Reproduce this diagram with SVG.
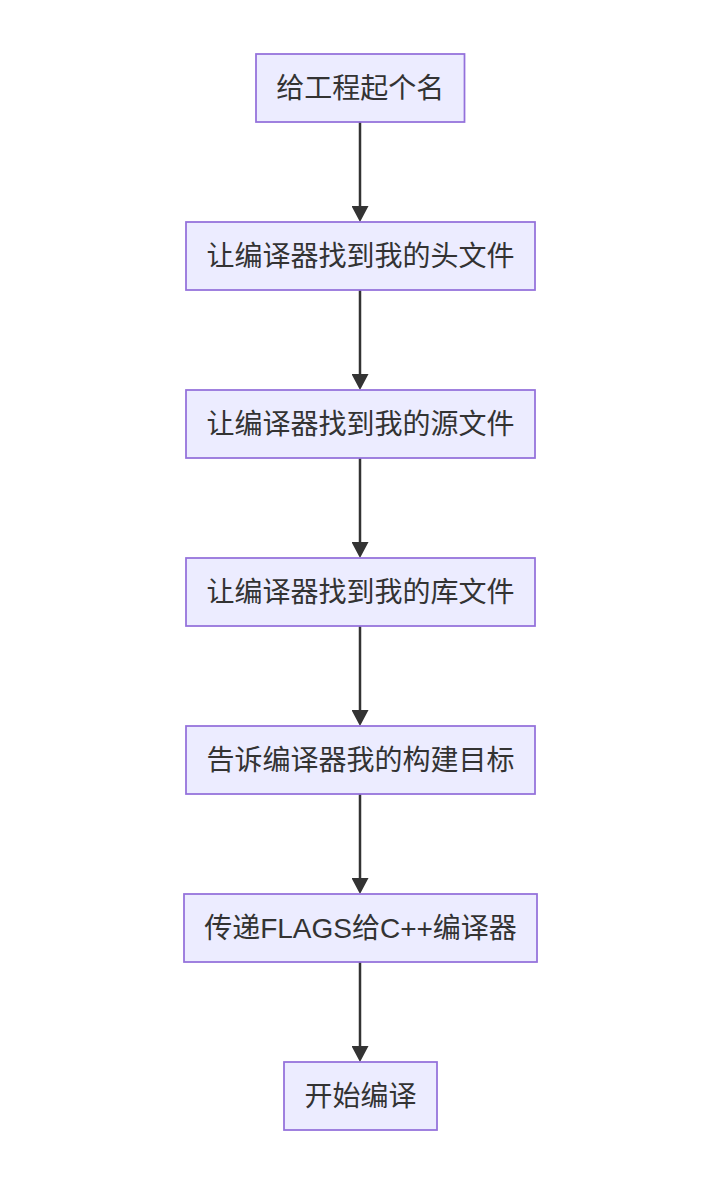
<svg xmlns="http://www.w3.org/2000/svg" width="720" height="1180" viewBox="0 0 720 1180">
<style>
.node rect{fill:#ECECFF;stroke:#9370DB;stroke-width:1.75}
.node text{fill:#333333;font-family:"Liberation Sans","Noto Sans CJK SC",sans-serif;font-size:28px;text-anchor:middle;dominant-baseline:central}
.edge{stroke:#333333;stroke-width:2.5;fill:none}
</style>
<defs>
<marker id="arrow" viewBox="0 0 16 17" refX="0" refY="8.5" markerWidth="16" markerHeight="17" markerUnits="userSpaceOnUse" orient="auto">
<path d="M0,0 L16,8.5 L0,17 z" fill="#333333"/>
</marker>
</defs>
<rect width="720" height="1180" fill="#ffffff"/>
<g id="edges">
<path class="edge" d="M360,122 L360,206" marker-end="url(#arrow)"/>
<path class="edge" d="M360,290 L360,374" marker-end="url(#arrow)"/>
<path class="edge" d="M360,458 L360,542" marker-end="url(#arrow)"/>
<path class="edge" d="M360,626 L360,710" marker-end="url(#arrow)"/>
<path class="edge" d="M360,794 L360,878" marker-end="url(#arrow)"/>
<path class="edge" d="M360,962 L360,1046" marker-end="url(#arrow)"/>
</g>
<g id="n1" class="node"><rect x="256" y="54" width="208.5" height="68"/><text x="360.2" y="88">给工程起个名</text></g>
<g id="n2" class="node"><rect x="186" y="222" width="349" height="68"/><text x="360.5" y="256">让编译器找到我的头文件</text></g>
<g id="n3" class="node"><rect x="186" y="390" width="349" height="68"/><text x="360.5" y="424">让编译器找到我的源文件</text></g>
<g id="n4" class="node"><rect x="186" y="558" width="349" height="68"/><text x="360.5" y="592">让编译器找到我的库文件</text></g>
<g id="n5" class="node"><rect x="186" y="726" width="349" height="68"/><text x="360.5" y="760">告诉编译器我的构建目标</text></g>
<g id="n6" class="node"><rect x="184" y="894" width="353" height="68"/><text x="360.5" y="928">传递FLAGS给C++编译器</text></g>
<g id="n7" class="node"><rect x="284" y="1062" width="153" height="68"/><text x="360.5" y="1096">开始编译</text></g>
</svg>
